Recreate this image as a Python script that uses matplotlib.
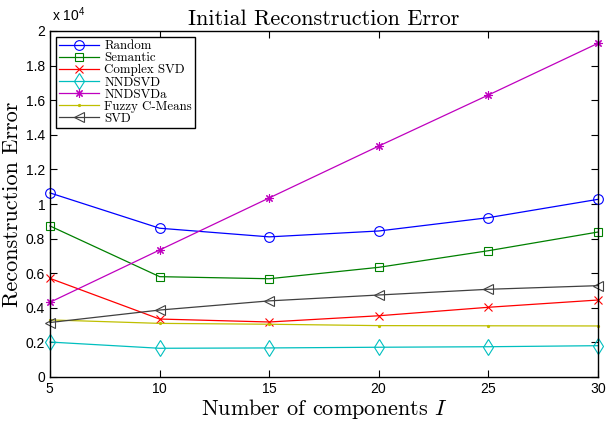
import matplotlib
matplotlib.use("Agg")
import matplotlib.pyplot as plt
from matplotlib.ticker import FuncFormatter, FixedLocator

x = [5, 10, 15, 20, 25, 30]
random_err   = [10640, 8600, 8100, 8440, 9210, 10270]
semantic_err = [8730, 5800, 5680, 6340, 7300, 8380]
complex_svd  = [5700, 3350, 3180, 3540, 4030, 4450]
nndsvd       = [2020, 1660, 1680, 1720, 1750, 1810]
nndsvda      = [4320, 7340, 10350, 13350, 16300, 19290]
fuzzy        = [3300, 3100, 3050, 2970, 2960, 2950]
svd          = [3150, 3870, 4400, 4740, 5070, 5280]

labels = ["Random", "Semantic", "Complex SVD", "NNDSVD", "NNDSVDa", "Fuzzy C-Means", "SVD"]
series = [random_err, semantic_err, complex_svd, nndsvd, nndsvda, fuzzy, svd]
colors = [(0, 0, 1), (0, 0.5, 0), (1, 0, 0), (0, 0.75, 0.75), (0.75, 0, 0.75), (0.75, 0.75, 0), (0.25, 0.25, 0.25)]
markers = ["o", "s", "x", "d", (8, 2, 0), ".", "<"]
msizes = [7, 6, 6, 8, 6, 3, 7]

yticks = [0, 2000, 4000, 6000, 8000, 10000, 12000, 14000, 16000, 18000, 20000]
xticks = [5, 10, 15, 20, 25, 30]

plt.rcParams['axes.formatter.use_mathtext'] = True
plt.rcParams['mathtext.fontset'] = 'cm'

fig = plt.figure(figsize=(6.06, 4.21), dpi=100)
ax = fig.add_axes([50/606, 1 - 377/421, 548/606, 346/421])

for ys, lab, c, m, ms in zip(series, labels, colors, markers, msizes):
    ax.plot(x, ys, color=c, marker=m, markersize=ms, markerfacecolor='none' if m != '.' else c,
            markeredgecolor=c, markeredgewidth=0.8, linewidth=0.9, label=lab, clip_on=False)

ax.set_xlim(5, 30)
ax.set_ylim(0, 20000)
ax.xaxis.set_major_locator(FixedLocator(xticks))
ax.yaxis.set_major_locator(FixedLocator(yticks))
ax.yaxis.set_major_formatter(FuncFormatter(lambda v, p: "%g" % (v / 1e4)))
ax.tick_params(direction='in', top=True, right=True, length=5, width=0.8, labelsize=10)
for lbl in ax.get_xticklabels() + ax.get_yticklabels():
    lbl.set_family('Liberation Sans')
for s in ax.spines.values():
    s.set_linewidth(1.0)

fig.text(52/606, 1 - 15/421, r'x 10$^{\mathregular{4}}$', family='Liberation Sans', fontsize=10, va='center', ha='left')

ax.set_title("Initial Reconstruction Error", family='cmr10', fontsize=16, pad=4)
ax.set_xlabel("Number of components $I$", family='cmr10', fontsize=16, labelpad=1)
ax.set_ylabel("Reconstruction Error", family='cmr10', fontsize=16, labelpad=3)

leg = ax.legend(loc='upper left', prop={'family': 'cmr10', 'size': 9.3}, frameon=True, fancybox=False,
                edgecolor='black', framealpha=1, borderaxespad=0.45, labelspacing=0.0, handlelength=3.1,
                handletextpad=0.4, borderpad=0.25)
leg.get_frame().set_linewidth(1.0)

fig.savefig("out.png", dpi=100)
